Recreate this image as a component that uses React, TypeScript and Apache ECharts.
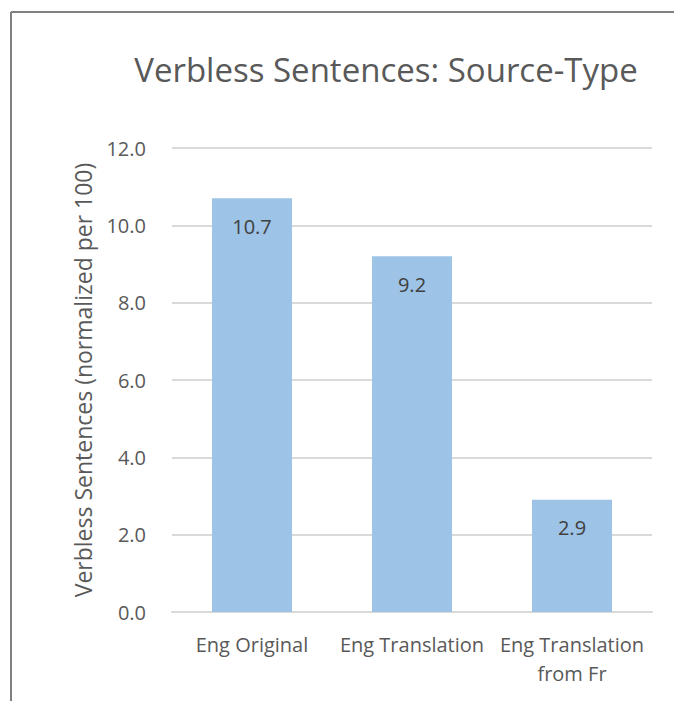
import React, { useEffect, useRef } from "react";
import * as echarts from "echarts";

const categories = ["Eng Original", "Eng Translation", "Eng Translation from Fr"];
const values = [10.7, 9.2, 2.9];
const titleText = "Verbless Sentences: Source-Type";
const yAxisName = "Verbless Sentences (normalized per 100)";

const FONT = "'Open Sans', sans-serif";

export default function App() {
  const ref = useRef<HTMLDivElement>(null);
  useEffect(() => {
    document.body.style.margin = "0";
    const chart = echarts.init(ref.current!, null, { renderer: "svg" });
    chart.setOption({
      animation: false,
      backgroundColor: "#ffffff",
      title: {
        text: titleText,
        left: 381,
        top: 48,
        textAlign: "center",
        textStyle: { fontFamily: FONT, fontSize: 33, fontWeight: "normal", color: "#595959" },
      },
      graphic: [
        { type: "line", shape: { x1: 11, y1: 12, x2: 674, y2: 12 }, style: { stroke: "#808080", lineWidth: 2 } },
        { type: "line", shape: { x1: 11, y1: 12, x2: 11, y2: 701 }, style: { stroke: "#808080", lineWidth: 2 } },
      ],
      grid: { left: 172, right: 22, top: 148, bottom: 89 },
      xAxis: {
        type: "category",
        data: categories,
        axisLine: { show: true, lineStyle: { color: "#d9d9d9", width: 2 } },
        axisTick: { show: false },
        axisLabel: {
          fontFamily: FONT,
          fontSize: 20,
          color: "#595959",
          margin: 18,
          lineHeight: 29,
          interval: 0,
          formatter: (v: string) => (v === "Eng Translation from Fr" ? "Eng Translation\nfrom Fr" : v),
        },
      },
      yAxis: {
        type: "value",
        min: 0,
        max: 12,
        interval: 2,
        name: yAxisName,
        nameLocation: "middle",
        nameGap: 78,
        nameTextStyle: { fontFamily: FONT, fontSize: 23, color: "#595959" },
        axisLine: { show: false },
        axisTick: { show: false },
        splitLine: { lineStyle: { color: "#d9d9d9", width: 2 } },
        axisLabel: {
          fontFamily: FONT,
          fontSize: 20,
          color: "#595959",
          margin: 26,
          formatter: (v: number) => v.toFixed(1),
        },
      },
      series: [
        {
          type: "bar",
          data: values,
          barWidth: "50%",
          itemStyle: { color: "#9dc3e6" },
          label: {
            show: true,
            position: "insideTop",
            distance: 17,
            lineHeight: 22,
            fontFamily: FONT,
            fontSize: 20,
            color: "#404040",
            formatter: (p: any) => Number(p.value).toFixed(1),
          },
        },
      ],
    });
    return () => chart.dispose();
  }, []);
  return <div ref={ref} style={{ width: 674, height: 701 }} />;
}
